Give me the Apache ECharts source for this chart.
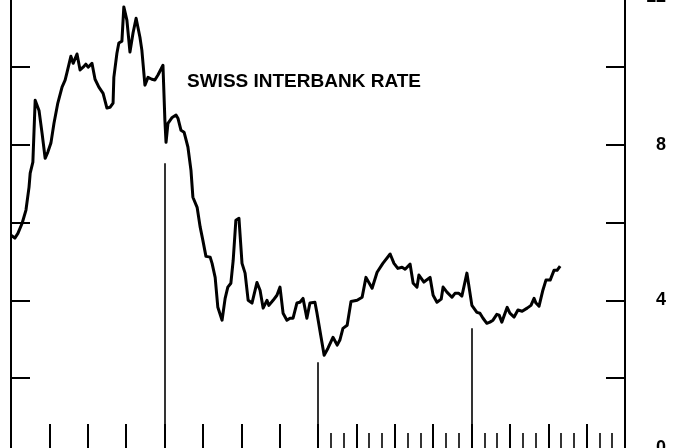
<!DOCTYPE html>
<html>
<head>
<meta charset="utf-8">
<script src="https://cdn.jsdelivr.net/npm/echarts@6/dist/echarts.min.js"></script>
<style>
  html, body { margin: 0; padding: 0; background: #fff; }
  #chart { width: 689px; height: 448px; }
</style>
</head>
<body>
<div id="chart"></div>
<script>
// time in big divisions (0..16), rate in percent
var timeValues = [
    0, 0.10, 0.18, 0.29, 0.39, 0.47, 0.50, 0.57, 0.63, 0.73,
    0.81, 0.89, 0.96, 1.04, 1.12, 1.22, 1.33, 1.41, 1.46, 1.56,
    1.62, 1.72, 1.80, 1.88, 1.95, 2.01, 2.11, 2.19, 2.29, 2.40,
    2.50, 2.58, 2.66, 2.68, 2.76, 2.81, 2.89, 2.94, 3.02, 3.10,
    3.18, 3.26, 3.36, 3.41, 3.49, 3.57, 3.67, 3.75, 3.83, 3.96,
    4.01, 4.04, 4.09, 4.20, 4.30, 4.35, 4.43, 4.51, 4.61, 4.69,
    4.74, 4.85, 4.93, 5.00, 5.08, 5.19, 5.24, 5.32, 5.39, 5.50,
    5.58, 5.65, 5.73, 5.79, 5.86, 5.94, 6.02, 6.10, 6.18, 6.28,
    6.41, 6.49, 6.57, 6.67, 6.72, 6.83, 6.93, 7.01, 7.09, 7.19,
    7.27, 7.35, 7.45, 7.53, 7.61, 7.71, 7.79, 7.92, 7.97, 8.08,
    8.16, 8.26, 8.39, 8.50, 8.57, 8.65, 8.76, 8.86, 9.02, 9.15,
    9.25, 9.41, 9.54, 9.69, 9.88, 9.98, 10.08, 10.19, 10.27, 10.40,
    10.48, 10.58, 10.63, 10.76, 10.92, 11.00, 11.10, 11.21, 11.26, 11.36,
    11.49, 11.57, 11.67, 11.75, 11.88, 12.01, 12.14, 12.22, 12.30, 12.40,
    12.48, 12.56, 12.66, 12.72, 12.79, 12.93, 13.00, 13.11, 13.21, 13.32,
    13.45, 13.55, 13.63, 13.68, 13.76, 13.86, 13.94, 14.05, 14.15, 14.23,
    14.31
];
var rateValues = [
    5.67, 5.60, 5.72, 5.98, 6.32, 6.91, 7.27, 7.55, 9.14, 8.88,
    8.29, 7.65, 7.81, 8.04, 8.55, 9.07, 9.48, 9.66, 9.86, 10.27,
    10.09, 10.33, 9.92, 9.99, 10.07, 9.99, 10.09, 9.68, 9.48, 9.32,
    8.94, 8.96, 9.07, 9.73, 10.35, 10.61, 10.66, 11.54, 11.20, 10.38,
    10.87, 11.25, 10.76, 10.43, 9.53, 9.73, 9.68, 9.66, 9.79, 10.04,
    8.63, 8.06, 8.55, 8.70, 8.76, 8.68, 8.37, 8.32, 7.94, 7.34,
    6.65, 6.39, 5.88, 5.54, 5.13, 5.11, 4.95, 4.59, 3.82, 3.49,
    4.05, 4.34, 4.44, 5.03, 6.06, 6.11, 4.95, 4.70, 4.00, 3.93,
    4.46, 4.26, 3.80, 4.00, 3.87, 4.00, 4.13, 4.34, 3.67, 3.49,
    3.54, 3.54, 3.93, 3.95, 4.05, 3.54, 3.93, 3.95, 3.69, 3.05,
    2.59, 2.77, 3.05, 2.85, 2.98, 3.28, 3.36, 3.97, 4.00, 4.08,
    4.59, 4.31, 4.72, 4.95, 5.19, 4.95, 4.82, 4.85, 4.80, 4.93,
    4.44, 4.34, 4.65, 4.47, 4.59, 4.13, 3.95, 4.03, 4.34, 4.21,
    4.08, 4.18, 4.18, 4.11, 4.70, 3.87, 3.69, 3.67, 3.54, 3.41,
    3.44, 3.49, 3.64, 3.62, 3.44, 3.82, 3.67, 3.57, 3.75, 3.72,
    3.80, 3.87, 4.05, 3.93, 3.85, 4.26, 4.52, 4.52, 4.77, 4.77,
    4.88
];

// vertical pointer lines
var pointerTimes = [4, 8, 12];
var pointerTops = [7.52, 2.41, 3.28];

var rightLabels = [0, 4, 8, 12];
var chartTitle = 'SWISS INTERBANK RATE';

var black = '#000';

function buildSeriesData() {
    return timeValues.map(function (t, i) { return [t, rateValues[i]]; });
}

function buildPointers() {
    return pointerTimes.map(function (t, i) {
        return [{ coord: [t, pointerTops[i]] }, { coord: [t, 0] }];
    });
}

// the end labels sit a little inside the frame on the original
function formatRightLabel(v) {
    if (rightLabels.indexOf(v) < 0) return '';
    if (v === 12) return '{top|' + v + '}';
    if (v === 0) return '{bot|' + v + '}';
    return String(v);
}

var chartDom = document.getElementById('chart');
var myChart = echarts.init(chartDom, null, { renderer: 'canvas' });

var labelFont = { fontFamily: 'Liberation Sans', fontSize: 18, fontWeight: 'bold', color: black };

var option = {
    animation: false,
    backgroundColor: '#fff',
    title: {
        text: chartTitle,
        left: 187,
        top: 72,
        padding: 0,
        textStyle: {
            fontFamily: 'Liberation Sans',
            fontSize: 19,
            fontWeight: 'bold',
            color: black
        }
    },
    grid: [
        { left: 11, right: 64, top: -11, bottom: -8, outerBoundsMode: 'none' },
        { left: 318, right: 64, top: -11, bottom: -8, outerBoundsMode: 'none' }
    ],
    xAxis: [
        {
            type: 'value', gridIndex: 0, min: 0, max: 16, interval: 1,
            axisLine: { show: false },
            axisTick: { show: true, inside: true, length: 32, lineStyle: { color: black, width: 2 } },
            axisLabel: { show: false },
            splitLine: { show: false }
        },
        {
            // finer marks on the second half
            type: 'value', gridIndex: 1, min: 0, max: 8, interval: 1,
            axisLine: { show: false },
            axisTick: { show: false, inside: true },
            minorTick: { show: true, splitNumber: 3, length: 23, lineStyle: { color: black, width: 1.6 } },
            axisLabel: { show: false },
            splitLine: { show: false }
        }
    ],
    yAxis: [
        {
            type: 'value', gridIndex: 0, position: 'left', min: 0, max: 12, interval: 2,
            axisLine: { show: true, lineStyle: { color: black, width: 2 } },
            axisTick: { show: true, inside: true, length: 19, lineStyle: { color: black, width: 2 } },
            axisLabel: { show: false },
            splitLine: { show: false }
        },
        {
            type: 'value', gridIndex: 0, position: 'right', min: 0, max: 12, interval: 2,
            axisLine: { show: true, lineStyle: { color: black, width: 2 } },
            axisTick: { show: true, inside: true, length: 19, lineStyle: { color: black, width: 2 } },
            axisLabel: {
                show: true,
                margin: 41,
                align: 'right',
                fontFamily: labelFont.fontFamily,
                fontSize: labelFont.fontSize,
                fontWeight: labelFont.fontWeight,
                color: black,
                formatter: formatRightLabel,
                rich: {
                    top: Object.assign({ padding: [16, 0, 0, 0] }, labelFont),
                    bot: Object.assign({ padding: [0, 0, 16, 0] }, labelFont)
                }
            },
            splitLine: { show: false }
        },
        { type: 'value', gridIndex: 1, show: false, min: 0, max: 12 }
    ],
    series: [{
        type: 'line',
        xAxisIndex: 0,
        yAxisIndex: 0,
        data: buildSeriesData(),
        showSymbol: false,
        symbol: 'none',
        lineStyle: { color: black, width: 3, join: 'round' },
        markLine: {
            silent: true,
            symbol: ['none', 'none'],
            label: { show: false },
            lineStyle: { color: black, width: 1.6, type: 'solid' },
            data: buildPointers()
        }
    }]
};

myChart.setOption(option);
</script>
</body>
</html>
